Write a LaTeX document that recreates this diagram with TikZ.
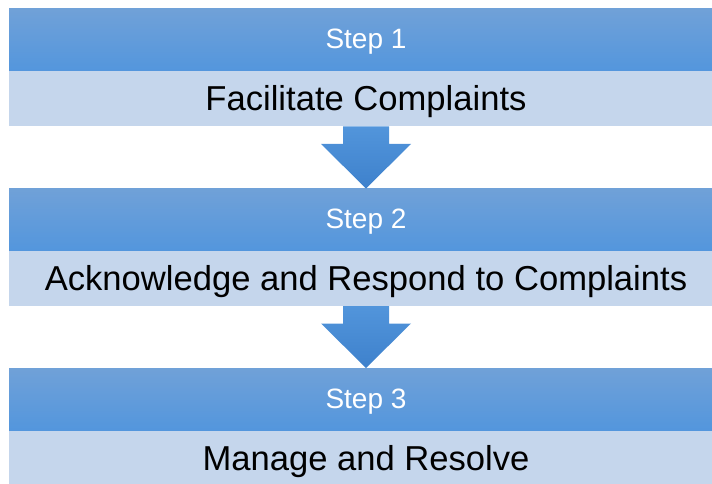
\documentclass[tikz,border=0pt]{standalone}
\usepackage{fontspec}
\setmainfont{Liberation Sans}
\usepackage{tikz}
\usetikzlibrary{positioning,calc}
\definecolor{headtop}{RGB}{112,161,216}
\definecolor{headbot}{RGB}{83,150,221}
\definecolor{descfill}{RGB}{197,214,236}
\definecolor{arrtop}{RGB}{82,149,219}
\definecolor{arrbot}{RGB}{62,129,204}

\begin{document}
\begin{tikzpicture}[x=1pt,y=1pt,
  stephead/.style={top color=headtop,bottom color=headbot,minimum width=714pt,minimum height=62.5pt,
    inner sep=0pt,outer sep=0pt,text=white,font=\fontsize{28}{32}\selectfont,text height=21pt,text depth=3.5pt},
  stepdesc/.style={fill=descfill,minimum width=714pt,minimum height=55pt,
    inner sep=0pt,outer sep=0pt,text=black,font=\fontsize{34.6}{40}\selectfont,text height=26pt,text depth=2pt},
  downarrow/.style={top color=arrtop,bottom color=arrbot}]
\clip (0,0) rectangle (712,-484);
\node[stephead] (head1) at (366,-40.25) {Step 1};
\node[stepdesc,below=0pt of head1] (desc1) {Facilitate Complaints};
\node[stephead,below=62pt of desc1] (head2) {Step 2};
\node[stepdesc,below=0pt of head2] (desc2) {Acknowledge and Respond to Complaints};
\node[stephead,below=62pt of desc2] (head3) {Step 3};
\node[stepdesc,below=0pt of head3] (desc3) {Manage and Resolve};
\foreach \a/\b in {desc1/head2,desc2/head3}
  \shade[downarrow] ($(\a.south)+(-23,0)$) -- ($(\a.south)+(23,0)$) -- ($(\a.south)+(23,-17.5)$)
    -- ($(\a.south)+(45,-17.5)$) -- (\b.north) -- ($(\a.south)+(-45,-17.5)$) -- ($(\a.south)+(-23,-17.5)$) -- cycle;
\end{tikzpicture}
\end{document}
